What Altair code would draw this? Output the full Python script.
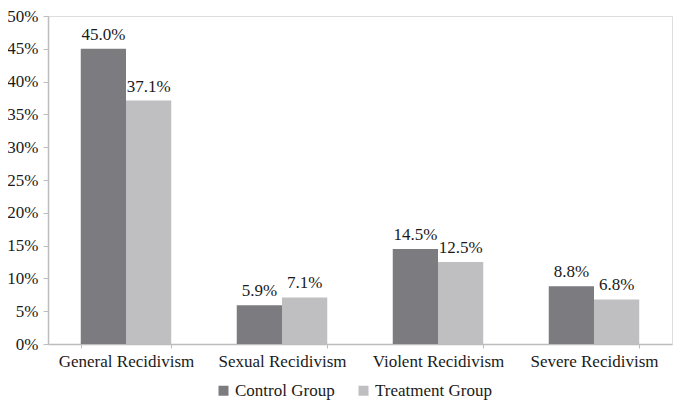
import altair as alt
import pandas as pd

categories = ["General Recidivism", "Sexual Recidivism", "Violent Recidivism", "Severe Recidivism"]
groups = ["Control Group", "Treatment Group"]
control = [45.0, 5.9, 14.5, 8.8]
treatment = [37.1, 7.1, 12.5, 6.8]
y_ticks = [0, 5, 10, 15, 20, 25, 30, 35, 40, 45, 50]

rows = []
for c, v in zip(categories, control):
    rows.append({"category": c, "group": groups[0], "value": v})
for c, v in zip(categories, treatment):
    rows.append({"category": c, "group": groups[1], "value": v})
df = pd.DataFrame(rows)

FONT = "Liberation Serif"
FS = 17

base = alt.Chart(df).encode(
    x=alt.X("category:N", sort=categories, title=None,
            scale=alt.Scale(paddingInner=0.42, paddingOuter=0.21),
            axis=alt.Axis(labelAngle=0, labelFontSize=FS, labelFont=FONT, labelColor="#1a1a1a",
                          tickBand="extent", domainColor="#bdbdbd", tickColor="#bdbdbd",
                          tickSize=4, labelPadding=5, domainWidth=1.5)),
    xOffset=alt.XOffset("group:N", sort=groups),
    y=alt.Y("value:Q", title=None,
            scale=alt.Scale(domain=[0, 50], nice=False),
            axis=alt.Axis(values=y_ticks, labelExpr="datum.value + '%'", grid=False,
                          labelFontSize=FS, labelFont=FONT, labelColor="#1a1a1a",
                          domainColor="#bdbdbd", tickColor="#bdbdbd", tickSize=5,
                          labelPadding=5, domainWidth=1.5)),
)

bars = base.mark_bar().encode(
    color=alt.Color("group:N", sort=groups,
                    scale=alt.Scale(domain=groups, range=["#7b7b80", "#bfbfc1"]),
                    legend=alt.Legend(title=None, orient="none", legendX=167, legendY=366,
                                      direction="horizontal", symbolType="square",
                                      symbolSize=100, symbolStrokeWidth=0,
                                      labelFontSize=FS, labelFont=FONT, labelColor="#1a1a1a",
                                      columnPadding=20, labelOffset=3))
)

labels = base.transform_calculate(
    label="format(datum.value, '.1f') + '%'"
).mark_text(baseline="alphabetic", dy=-9, fontSize=FS, font=FONT, color="#1a1a1a").encode(
    text="label:N"
)

chart = alt.layer(bars, labels).properties(
    width=624, height=328,
    autosize=alt.AutoSizeParams(type="none"),
    padding={"left": 40, "top": 8, "right": 1, "bottom": 59},
).configure_view(stroke=None).configure(background="white")

chart.save("out.html", embed_options={"renderer": "svg", "actions": False})
